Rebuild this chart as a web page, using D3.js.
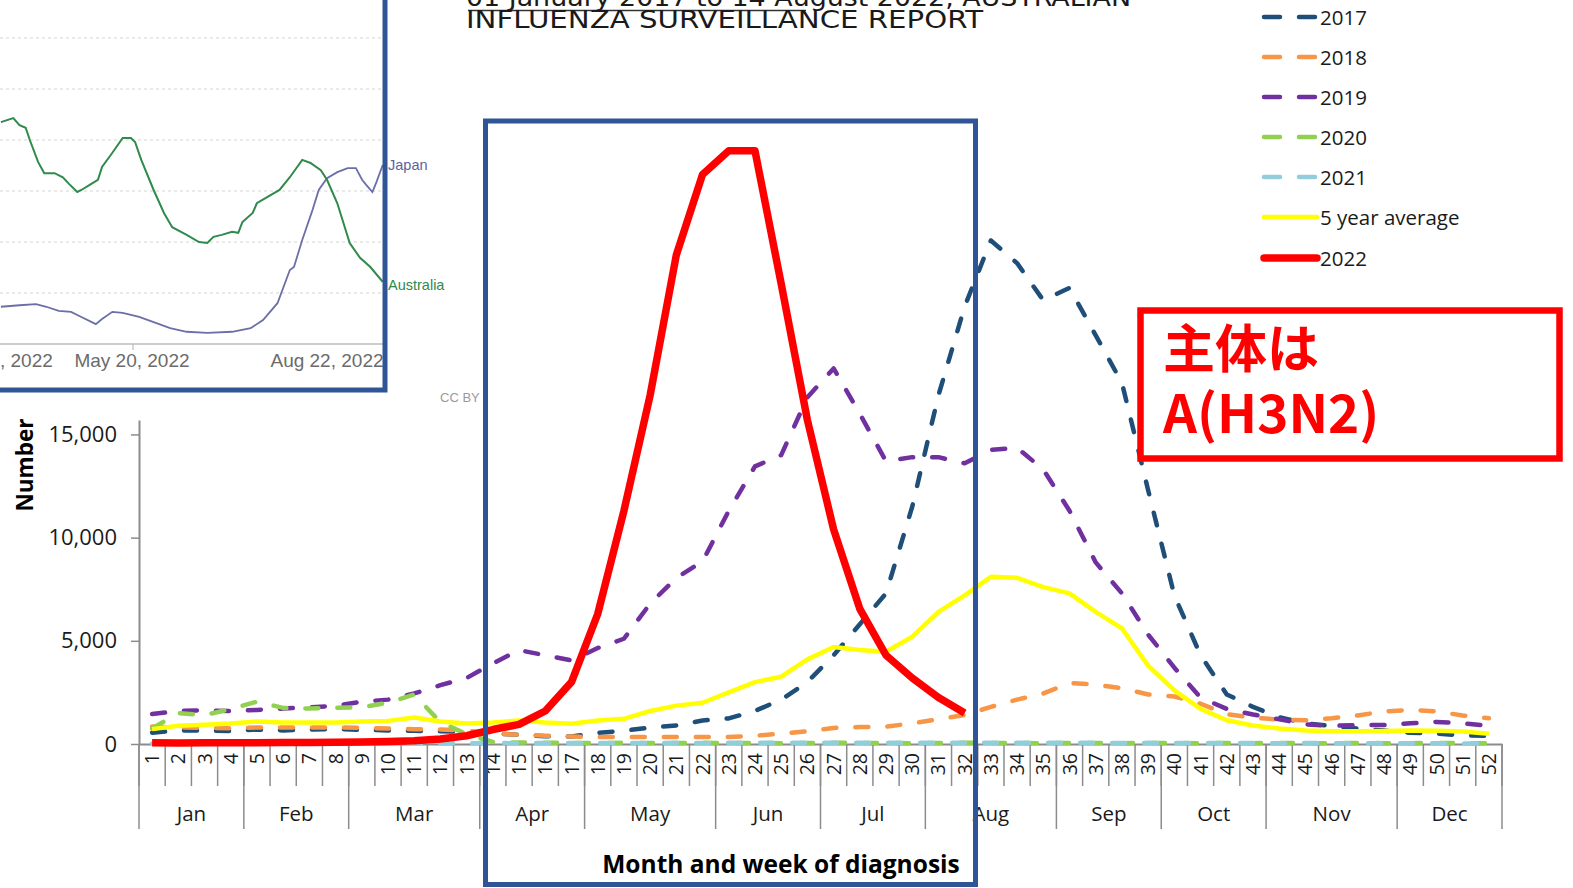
<!DOCTYPE html>
<html><head><meta charset="utf-8">
<script src="https://cdn.jsdelivr.net/npm/d3@7"></script>
<style>
html,body{margin:0;padding:0;background:#fff;overflow:hidden;}
svg{display:block;}
</style></head><body>
<svg id="c" width="1573" height="888"></svg>
<script>
// ---------------- DATA ----------------
const weeks = [1,2,3,4,5,6,7,8,9,10,11,12,13,14,15,16,17,18,19,20,21,22,23,24,25,26,
  27,28,29,30,31,32,33,34,35,36,37,38,39,40,41,42,43,44,45,46,47,48,49,50,51,52];
const monthNames = ["Jan","Feb","Mar","Apr","May","Jun","Jul","Aug","Sep","Oct","Nov","Dec"];
const monthLastWeek = [4,8,13,17,22,26,30,35,39,43,48,52];
const yTicks = [0,5000,10000,15000];

const v2017 = [550,650,650,630,700,660,700,720,690,660,640,620,580,500,450,380,360,540,640,800,
  900,1140,1240,1600,2150,3000,4300,5800,7300,11500,16900,21200,24400,23300,21500,22100,19800,
  17500,12300,7200,4300,2400,1800,1300,1000,870,750,650,550,500,420,400];
const v2018 = [850,800,780,760,800,800,800,800,780,750,720,700,650,500,450,400,360,340,340,340,
  340,340,340,400,500,620,780,820,840,1000,1200,1400,1800,2150,2450,2950,2880,2700,2400,2300,
  1950,1450,1280,1180,1150,1250,1380,1580,1650,1580,1380,1250];
const v2019 = [1450,1600,1630,1600,1650,1720,1780,1850,2050,2150,2450,2850,3200,3900,4550,4300,
  4050,4650,5100,6800,8050,8850,11300,13450,14000,16800,18200,16000,13700,13900,13900,13600,
  14250,14350,13300,11300,8800,7300,5300,3700,2250,1700,1430,1200,950,880,915,915,1000,1070,1000,880];
const v2020 = [750,1500,1400,1700,2050,1750,1720,1760,1780,2000,2400,1050,480,100,70,60,50,50,
  60,50,50,60,50,50,40,50,60,50,50,40,50,60,50,50,40,50,50,40,50,50,40,50,40,50,40,40,50,40,40,50,40,40];
const v2021 = [20,20,25,20,25,25,30,30,35,30,35,40,40,45,40,45,50,50,45,50,55,50,55,60,55,60,
  60,55,60,65,60,60,65,60,55,60,55,50,55,50,45,50,45,40,45,40,40,35,40,35,30,30];
const v5yr = [720,880,930,990,1090,1040,1040,1040,1090,1120,1280,1090,990,1040,1140,1040,980,
  1140,1220,1600,1860,2000,2500,3000,3260,4100,4700,4550,4470,5200,6400,7200,8100,8050,7600,
  7300,6400,5600,3800,2600,1700,1150,900,750,650,620,620,630,660,640,600,500];
const v2022 = [60,50,60,60,60,70,70,80,100,120,160,240,400,700,950,1600,3000,6300,11300,16900,
  23700,27600,28750,28750,22300,15700,10400,6550,4300,3200,2250,1500];

const seriesNames = ["2017","2018","2019","2020","2021","5 year average","2022"];
const seriesValues = [v2017,v2018,v2019,v2020,v2021,v5yr,v2022];

// inset (top-left screenshot): days relative to 20 May 2022, and relative level
const auDays = [-64,-58,-55,-52,-50,-46,-43,-38,-34,-31,-27,-25,-21,-17,-15,-10,-5,-1,1,4,10,15,19,
  26,32,36,39,43,48,51,53,58,60,65,71,76,82,86,91,94,99,105,110,115,121];
const auVals = [4.35,4.43,4.29,4.24,4.0,3.57,3.35,3.35,3.27,3.14,2.98,3.02,3.12,3.22,3.47,3.75,
  4.04,4.04,3.96,3.61,3.02,2.57,2.29,2.14,2.0,1.98,2.10,2.14,2.20,2.18,2.39,2.57,2.76,2.88,3.02,
  3.27,3.61,3.55,3.41,3.22,2.76,1.98,1.69,1.51,1.22];
const jpDays = [-64,-55,-47,-42,-36,-30,-26,-18,-15,-10,-5,3,10,18,26,36,48,57,63,70,76,78,82,87,
  90,94,99,104,108,111,113,116,118,121];
const jpVals = [0.73,0.76,0.78,0.73,0.65,0.63,0.55,0.39,0.49,0.63,0.61,0.53,0.43,0.31,0.24,0.22,
  0.24,0.31,0.47,0.80,1.45,1.51,2.04,2.63,3.02,3.25,3.37,3.45,3.45,3.22,3.12,2.98,3.18,3.51];
const insetGrid = [1,2,3,4,5,6];
const insetLabels = [", 2022","May 20, 2022","Aug 22, 2022"];

// ---------------- STYLES ----------------
const colors = ["#1F4E79","#F79646","#7030A0","#92D050","#92CDDC","#FFFF00","#FF0000"];
const widths = [4.5,4.5,4.5,4.5,4.5,4.5,7.5];
const dashed = [true,true,true,true,true,false,false];
const FONT = "'Open Sans', 'Noto Sans', sans-serif";

const svg = d3.select("#c");

// ---------------- MAIN CHART ----------------
const x = d3.scaleBand().domain(weeks).range([139,1502]).paddingInner(0).paddingOuter(0);
const y = d3.scaleLinear().domain([0,15700]).range([744,420]);
const cx = w => x(w) + x.bandwidth()/2;

// y axis
const yAxis = svg.append("g").attr("transform","translate(139,0)")
  .call(d3.axisLeft(y).tickValues(yTicks).tickSize(8).tickSizeOuter(0).tickPadding(14)
    .tickFormat(d3.format(",")));
yAxis.select(".domain").attr("stroke","#8c8c8c").attr("stroke-width",2);
yAxis.selectAll(".tick line").attr("stroke","#8c8c8c").attr("stroke-width",1.5);
yAxis.selectAll(".tick text").attr("font-family",FONT).attr("font-size",22).attr("fill","#1a1a1a");

svg.append("text").text("Number")
  .attr("transform","translate(24,465) rotate(-90)")
  .attr("text-anchor","middle").attr("dominant-baseline","central")
  .attr("font-family",FONT).attr("font-weight","bold").attr("font-size",22.5).attr("fill","#000");

// x axis (weeks)
const xAxis = svg.append("g").attr("transform","translate(0,744)")
  .call(d3.axisBottom(x).tickSize(0).tickSizeOuter(0));
xAxis.select(".domain").attr("stroke","#8c8c8c").attr("stroke-width",2);
xAxis.selectAll(".tick text")
  .attr("transform","rotate(-90)").attr("text-anchor","end")
  .attr("x",-9).attr("y",0).attr("dy","0.36em")
  .attr("font-family",FONT).attr("font-size",19.5).attr("fill","#1a1a1a");

// week separators
svg.append("g").selectAll("line").data(weeks.concat([53]))
  .join("line")
  .attr("x1",w => w===53 ? x.range()[1] : x(w)).attr("x2",w => w===53 ? x.range()[1] : x(w))
  .attr("y1",744).attr("y2",786)
  .attr("stroke","#8c8c8c").attr("stroke-width",1.5);

// month separators and labels
const monthStarts = monthLastWeek.map((e,i) => i===0 ? 1 : monthLastWeek[i-1]+1);
const bounds = [1].concat(monthLastWeek.map(e => e+1));
svg.append("g").selectAll("line").data(bounds).join("line")
  .attr("x1",w => w===53 ? x.range()[1] : x(w)).attr("x2",w => w===53 ? x.range()[1] : x(w))
  .attr("y1",744).attr("y2",829)
  .attr("stroke","#8c8c8c").attr("stroke-width",1.5);
svg.append("g").selectAll("text").data(monthNames).join("text")
  .text(d => d)
  .attr("x",(d,i) => (x(monthStarts[i]) + x(monthLastWeek[i]) + x.bandwidth())/2)
  .attr("y",821).attr("text-anchor","middle")
  .attr("font-family",FONT).attr("font-size",20.5).attr("fill","#1a1a1a");

svg.append("text").text("Month and week of diagnosis")
  .attr("x",781).attr("y",873).attr("text-anchor","middle")
  .attr("font-family",FONT).attr("font-weight","bold").attr("font-size",24.5).attr("fill","#000");

// series lines
const line = d3.line().x((d,i) => cx(weeks[i])).y(d => y(d));
seriesValues.forEach((vals,k) => {
  svg.append("path").datum(vals)
    .attr("d",line)
    .attr("fill","none")
    .attr("stroke",colors[k])
    .attr("stroke-width",widths[k])
    .attr("stroke-linejoin","round")
    .attr("stroke-linecap", dashed[k] ? "round" : "butt")
    .attr("stroke-dasharray", dashed[k] ? "13,19" : null);
});

// highlight rectangle
svg.append("rect").attr("x",485.5).attr("y",121).attr("width",490).attr("height",763.5)
  .attr("fill","none").attr("stroke","#2F5597").attr("stroke-width",5);

// ---------------- TITLE ----------------
svg.append("text").text("01 January 2017 to 14 August 2022, AUSTRALIAN")
  .attr("x",466).attr("y",6).attr("textLength",665).attr("lengthAdjust","spacingAndGlyphs")
  .attr("font-family","'Liberation Sans Narrow','DejaVu Sans Condensed',sans-serif")
  .attr("font-size",25).attr("fill","#1a1a1a");
svg.append("line").attr("x1",468).attr("x2",806).attr("y1",10.5).attr("y2",10.5)
  .attr("stroke","#333").attr("stroke-width",1.3);
svg.append("text").text("INFLUENZA SURVEILLANCE REPORT")
  .attr("x",466).attr("y",28).attr("textLength",517).attr("lengthAdjust","spacingAndGlyphs")
  .attr("font-family","'Liberation Sans Narrow','DejaVu Sans Condensed',sans-serif")
  .attr("font-size",24).attr("fill","#1a1a1a");

// ---------------- LEGEND ----------------
const legendY = [17,57,97,137,177,217,258];
const lg = svg.append("g");
seriesNames.forEach((name,k) => {
  const g = lg.append("g").attr("transform",`translate(0,${legendY[k]})`);
  if (dashed[k]) {
    g.append("line").attr("x1",1264).attr("x2",1315).attr("y1",0).attr("y2",0)
      .attr("stroke",colors[k]).attr("stroke-width",4.5).attr("stroke-linecap","round")
      .attr("stroke-dasharray","16,19");
  } else {
    g.append("line").attr("x1",1264).attr("x2",1317).attr("y1",0).attr("y2",0)
      .attr("stroke",colors[k]).attr("stroke-width",k===6 ? 7.5 : 4.5).attr("stroke-linecap","round");
  }
  g.append("text").text(name).attr("x",1320).attr("y",0).attr("dominant-baseline","central")
    .attr("font-family",FONT).attr("font-size",20.5).attr("fill","#1a1a1a");
});

// ---------------- ANNOTATION BOX ----------------
svg.append("rect").attr("x",1140.5).attr("y",310.5).attr("width",419).attr("height",148)
  .attr("fill","#fff").attr("stroke","#FF0000").attr("stroke-width",6.5);
svg.append("text").text("主体は").attr("x",1163).attr("y",368)
  .attr("font-family","'Noto Sans CJK JP',sans-serif").attr("font-weight","bold")
  .attr("font-size",52).attr("fill","#FF0000");
svg.append("text").text("A(H3N2)").attr("x",1163).attr("y",433)
  .attr("font-family","'Noto Sans CJK JP',sans-serif").attr("font-weight","bold")
  .attr("font-size",53).attr("fill","#FF0000");

// ---------------- INSET ----------------
svg.append("text").text("CC BY").attr("x",440).attr("y",402)
  .attr("font-family","'Liberation Sans',Arial,sans-serif").attr("font-size",13).attr("fill","#9a9a9a");

const inset = svg.append("g");
inset.append("rect").attr("x",-10).attr("y",-10).attr("width",395).attr("height",400)
  .attr("fill","#fff");
svg.append("defs").append("clipPath").attr("id","insetClip")
  .append("rect").attr("x",-10).attr("y",-10).attr("width",393).attr("height",398);
const ic = inset.append("g").attr("clip-path","url(#insetClip)");
const ix = d3.scaleTime().domain([new Date(2022,4,20), new Date(2022,7,22)]).range([133,327]);
const iy = d3.scaleLinear().domain([0,6]).range([344,38]);
const base = new Date(2022,4,20);
ic.append("g").selectAll("line").data(insetGrid).join("line")
  .attr("x1",0).attr("x2",383).attr("y1",d => iy(d)).attr("y2",d => iy(d))
  .attr("stroke","#d4d4d4").attr("stroke-width",1.2).attr("stroke-dasharray","3,3");
ic.append("line").attr("x1",0).attr("x2",383).attr("y1",iy(0)).attr("y2",iy(0))
  .attr("stroke","#bdbdbd").attr("stroke-width",1.5);
ic.append("line").attr("x1",ix(base)).attr("x2",ix(base)).attr("y1",iy(0)).attr("y2",iy(0)+6)
  .attr("stroke","#bdbdbd").attr("stroke-width",1.2);
const iline = d3.line().x(d => ix(d3.timeDay.offset(base,d[0]))).y(d => iy(d[1]));
ic.append("path").datum(jpDays.map((d,i) => [d,jpVals[i]])).attr("d",iline)
  .attr("fill","none").attr("stroke","#6a6fa8").attr("stroke-width",1.8);
ic.append("path").datum(auDays.map((d,i) => [d,auVals[i]])).attr("d",iline)
  .attr("fill","none").attr("stroke","#2f8a4c").attr("stroke-width",2);
ic.append("text").text(insetLabels[0]).attr("x",0).attr("y",367)
  .attr("font-family","'Liberation Sans',Arial,sans-serif").attr("font-size",19).attr("fill","#6b6b6b");
ic.append("text").text(insetLabels[1]).attr("x",ix(base)-1).attr("y",367).attr("text-anchor","middle")
  .attr("font-family","'Liberation Sans',Arial,sans-serif").attr("font-size",19).attr("fill","#6b6b6b");
ic.append("text").text(insetLabels[2]).attr("x",ix(new Date(2022,7,22))).attr("y",367).attr("text-anchor","middle")
  .attr("font-family","'Liberation Sans',Arial,sans-serif").attr("font-size",19).attr("fill","#6b6b6b");
inset.append("rect").attr("x",-10).attr("y",-10).attr("width",395).attr("height",400)
  .attr("fill","none").attr("stroke","#2F5597").attr("stroke-width",5);
svg.append("text").text("Japan").attr("x",388).attr("y",170)
  .attr("font-family","'Liberation Sans',Arial,sans-serif").attr("font-size",14.5).attr("fill","#5d62a0");
svg.append("text").text("Australia").attr("x",388).attr("y",290)
  .attr("font-family","'Liberation Sans',Arial,sans-serif").attr("font-size",14.5).attr("fill","#2f8a4c");
</script>
</body></html>
